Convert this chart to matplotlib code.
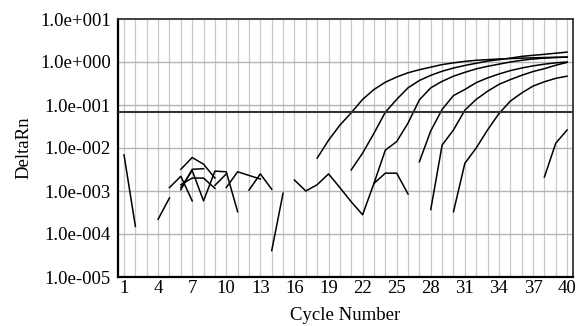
import numpy as np
import matplotlib
matplotlib.use("Agg")
import matplotlib.pyplot as plt

# ---- data (DeltaRn per cycle; separate segments where no value is drawn) ----
curve1_x = list(range(18, 41))
curve1_y = [5.8e-3, 0.0151, 0.0339, 0.066, 0.135, 0.229, 0.339, 0.447, 0.562, 0.661,
            0.759, 0.871, 0.955, 1.035, 1.096, 1.135, 1.175, 1.20, 1.23, 1.25, 1.27, 1.29, 1.30]

curve2_x = list(range(21, 41))
curve2_y = [3.1e-3, 7.6e-3, 0.022, 0.068, 0.135, 0.251, 0.372, 0.49, 0.61, 0.724,
            0.832, 0.933, 1.05, 1.135, 1.23, 1.35, 1.43, 1.51, 1.60, 1.70]

curve3_x = list(range(23, 41))
curve3_y = [1.51e-3, 8.9e-3, 0.0141, 0.038, 0.132, 0.251, 0.355, 0.468, 0.575, 0.692,
            0.794, 0.891, 1.0, 1.096, 1.175, 1.23, 1.27, 1.30]

curve4_x = list(range(27, 41))
curve4_y = [4.8e-3, 0.0251, 0.079, 0.166, 0.229, 0.331, 0.427, 0.525, 0.631, 0.724,
            0.813, 0.891, 0.955, 1.0]

curve5_x = list(range(28, 41))
curve5_y = [3.7e-4, 0.0117, 0.0263, 0.076, 0.135, 0.209, 0.302, 0.389, 0.49, 0.60,
            0.70, 0.84, 0.98]

curve6_x = list(range(30, 41))
curve6_y = [3.3e-4, 4.4e-3, 0.010, 0.0263, 0.063, 0.123, 0.19, 0.275, 0.347, 0.417, 0.468]

curve7_x = [38, 39, 40]
curve7_y = [2.1e-3, 0.0129, 0.0263]

noise_a_x = [1, 2];               noise_a_y = [6.9e-3, 1.5e-4]
noise_b_x = [4, 5];               noise_b_y = [2.2e-4, 6.9e-4]
noise_c_x = [5, 6, 7];            noise_c_y = [1.2e-3, 2.2e-3, 5.9e-4]
noise_d_x = [6, 7, 8, 9];         noise_d_y = [3.2e-3, 6.0e-3, 4.2e-3, 2.0e-3]
noise_e_x = [6, 7, 8, 9, 10, 11]; noise_e_y = [1.2e-3, 3.0e-3, 5.9e-4, 2.9e-3, 2.8e-3, 3.3e-4]
noise_f_x = [6, 7, 8, 9];         noise_f_y = [1.4e-3, 2.0e-3, 2.0e-3, 1.15e-3]
noise_g_x = [6, 7, 8];            noise_g_y = [1.07e-3, 3.2e-3, 3.3e-3]
noise_h_x = [9, 10];              noise_h_y = [1.35e-3, 2.5e-3]
noise_i_x = [10, 11, 12, 13];     noise_i_y = [1.2e-3, 2.8e-3, 2.3e-3, 1.9e-3]
noise_j_x = [12, 13, 14];         noise_j_y = [1.05e-3, 2.5e-3, 1.1e-3]
noise_k_x = [14, 15];             noise_k_y = [4.1e-5, 8.9e-4]
noise_l_x = list(range(16, 27))
noise_l_y = [1.8e-3, 1.0e-3, 1.4e-3, 2.5e-3, 1.2e-3, 5.6e-4, 2.8e-4, 1.5e-3, 2.6e-3, 2.6e-3, 8.5e-4]

threshold = 0.067

x_ticks = [1, 4, 7, 10, 13, 16, 19, 22, 25, 28, 31, 34, 37, 40]
y_ticks = [1e-5, 1e-4, 1e-3, 1e-2, 1e-1, 1e0, 1e1]
y_tick_labels = ["1.0e-005", "1.0e-004", "1.0e-003", "1.0e-002", "1.0e-001", "1.0e+000", "1.0e+001"]

series = [
    (curve1_x, curve1_y), (curve2_x, curve2_y), (curve3_x, curve3_y), (curve4_x, curve4_y),
    (curve5_x, curve5_y), (curve6_x, curve6_y), (curve7_x, curve7_y),
    (noise_a_x, noise_a_y), (noise_b_x, noise_b_y), (noise_c_x, noise_c_y),
    (noise_d_x, noise_d_y), (noise_e_x, noise_e_y), (noise_f_x, noise_f_y),
    (noise_g_x, noise_g_y), (noise_h_x, noise_h_y), (noise_i_x, noise_i_y),
    (noise_j_x, noise_j_y), (noise_k_x, noise_k_y), (noise_l_x, noise_l_y),
]

plt.rcParams["font.family"] = ["Liberation Serif", "DejaVu Serif"]

fig = plt.figure(figsize=(5.77, 3.26), dpi=100)
ax = fig.add_axes([118 / 577, 1 - 277 / 326, (573 - 118) / 577, (277 - 19) / 326])

ax.set_yscale("log")
ax.set_xlim(0.47, 40.52)
ax.set_ylim(1e-5, 1e1)

# grid
for c in range(1, 41):
    ax.axvline(c, color="#c8c8c8", lw=0.9, zorder=0)
for v in y_ticks[1:-1]:
    ax.axhline(v, color="#b4b4b4", lw=1.0, zorder=0)

for xs, ys in series:
    ax.plot(xs, ys, color="black", lw=1.1, zorder=3)

ax.axhline(threshold, color="#333333", lw=1.5, zorder=4)

ax.set_xticks(x_ticks)
ax.set_xticklabels([str(t) for t in x_ticks])
ax.set_yticks(y_ticks)
ax.set_yticklabels(y_tick_labels)
ax.yaxis.set_minor_locator(matplotlib.ticker.NullLocator())
ax.tick_params(axis="both", length=0, labelsize=13.5, colors="black")
ax.tick_params(axis="x", pad=2)
ax.tick_params(axis="y", pad=5)

for s in ["left", "bottom"]:
    ax.spines[s].set_linewidth(1.6)
    ax.spines[s].set_color("black")
for s in ["top", "right"]:
    ax.spines[s].set_linewidth(1.3)
    ax.spines[s].set_color("#333333")

ax.set_xlabel("Cycle Number", fontsize=13.5, labelpad=7)
ax.set_ylabel("DeltaRn", fontsize=13.5, labelpad=6)

fig.savefig("out.png", dpi=100)
